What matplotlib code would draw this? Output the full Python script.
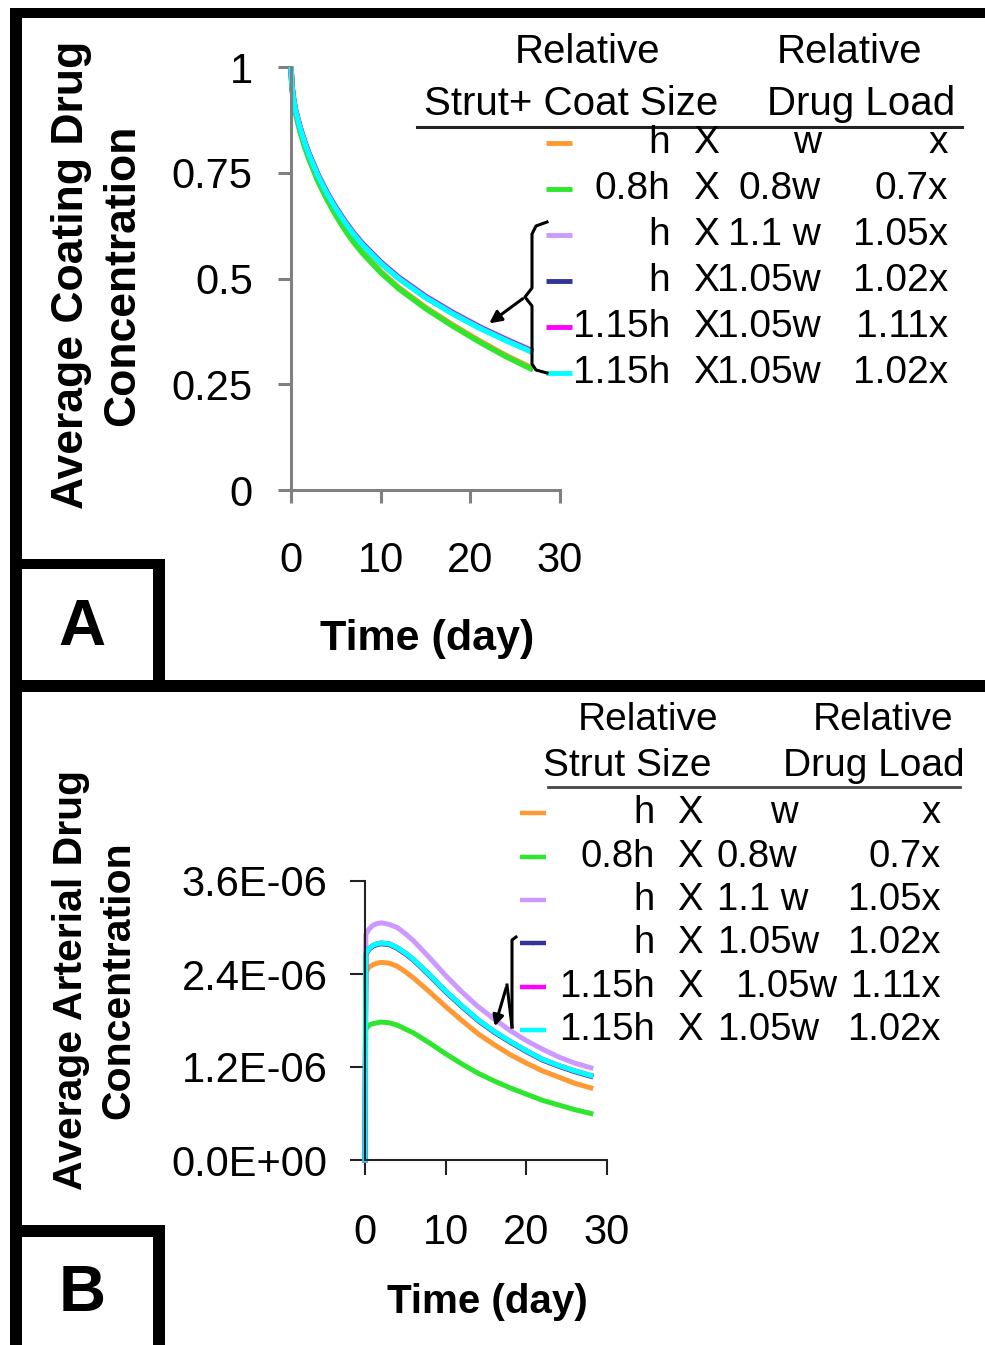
import matplotlib
matplotlib.use("Agg")
import matplotlib.pyplot as plt
from matplotlib.patches import Rectangle
from matplotlib.ticker import FuncFormatter

plt.rcParams['font.family'] = ['Liberation Sans', 'DejaVu Sans']

# series styling / legend rows (shared by both panels)
colors = ['#FF9933', '#2EE62E', '#CC99FF', '#333399', '#FF00FF', '#00FFFF']
h_col = ['h', '0.8h', 'h', 'h', '1.15h', '1.15h']
w_col = ['w', '0.8w', '1.1 w', '1.05w', '1.05w', '1.05w']
load_col = ['x', '0.7x', '1.05x', '1.02x', '1.11x', '1.02x']

# Panel A: average coating drug concentration (normalised)
t_coat = [0, 0.1, 0.25, 0.5, 1, 1.5, 2, 3, 4, 5, 6, 7, 8, 10, 12, 15, 18, 21, 24, 27]
coat_h_w = [1, 0.955, 0.925, 0.893, 0.85, 0.815, 0.785, 0.733, 0.69, 0.652, 0.618, 0.588,
            0.562, 0.517, 0.479, 0.432, 0.391, 0.353, 0.318, 0.287]
coat_08h = [1, 0.954, 0.923, 0.891, 0.847, 0.812, 0.782, 0.73, 0.687, 0.649, 0.615, 0.585,
            0.559, 0.514, 0.476, 0.429, 0.388, 0.35, 0.315, 0.284]
coat_11w = [1, 0.958, 0.93, 0.9, 0.86, 0.826, 0.797, 0.747, 0.705, 0.669, 0.637, 0.608,
            0.583, 0.54, 0.504, 0.459, 0.421, 0.387, 0.357, 0.329]
coat_105w = [1, 0.957, 0.929, 0.898, 0.858, 0.824, 0.795, 0.745, 0.703, 0.667, 0.635, 0.606,
             0.581, 0.538, 0.502, 0.457, 0.419, 0.385, 0.355, 0.327]
coat_115h_111x = [1, 0.957, 0.928, 0.897, 0.857, 0.823, 0.794, 0.744, 0.702, 0.666, 0.634, 0.605,
                  0.58, 0.537, 0.501, 0.456, 0.418, 0.384, 0.354, 0.326]
coat_115h_102x = [1, 0.957, 0.928, 0.897, 0.856, 0.822, 0.793, 0.743, 0.701, 0.665, 0.633, 0.604,
                  0.579, 0.536, 0.5, 0.455, 0.417, 0.383, 0.353, 0.325]
coat_series = [coat_h_w, coat_08h, coat_11w, coat_105w, coat_115h_111x, coat_115h_102x]

# Panel B: average arterial drug concentration (x 1e-6)
t_art = [0, 0.1, 0.5, 1, 1.5, 2, 3, 4, 5, 6, 8, 10, 12, 14, 16, 18, 20, 22, 24, 26, 28]
art_h_w = [0, 2.42, 2.49, 2.52, 2.54, 2.55, 2.54, 2.50, 2.43, 2.35, 2.17, 1.98, 1.80, 1.63,
           1.49, 1.36, 1.25, 1.15, 1.07, 0.99, 0.93]
art_08h = [0, 1.69, 1.74, 1.76, 1.77, 1.78, 1.77, 1.74, 1.69, 1.64, 1.51, 1.37, 1.24, 1.12,
           1.02, 0.93, 0.85, 0.77, 0.71, 0.65, 0.60]
art_11w = [0, 2.91, 2.98, 3.03, 3.05, 3.06, 3.04, 3.00, 2.92, 2.83, 2.61, 2.38, 2.17, 1.98,
           1.82, 1.67, 1.54, 1.43, 1.33, 1.25, 1.19]
art_105w = [0, 2.65, 2.72, 2.76, 2.78, 2.79, 2.78, 2.73, 2.66, 2.58, 2.38, 2.17, 1.98, 1.80,
            1.65, 1.52, 1.40, 1.29, 1.21, 1.14, 1.08]
art_115h_111x = [0, 2.66, 2.73, 2.77, 2.79, 2.80, 2.79, 2.74, 2.67, 2.59, 2.39, 2.18, 1.99, 1.81,
                 1.66, 1.53, 1.41, 1.30, 1.22, 1.15, 1.09]
art_115h_102x = [0, 2.66, 2.73, 2.77, 2.79, 2.80, 2.79, 2.74, 2.67, 2.59, 2.39, 2.18, 1.99, 1.81,
                 1.66, 1.53, 1.41, 1.30, 1.22, 1.15, 1.09]
art_series = [art_h_w, art_08h, art_11w, art_105w, art_115h_111x, art_115h_102x]

W, H = 985, 1345
fig = plt.figure(figsize=(W / 100, H / 100), dpi=100)


def px_box(left, top, right, bottom):
    return [left / W, 1 - bottom / H, (right - left) / W, (bottom - top) / H]


# ---- panel A axes ----
axA = fig.add_axes(px_box(291, 67, 560, 490))
for vals, c in zip(coat_series, colors):
    axA.plot(t_coat, vals, color=c, lw=3.9, solid_capstyle='butt', clip_on=False)
axA.set_xlim(0, 30)
axA.set_ylim(0, 1)
axA.set_xticks([0, 10, 20, 30])
axA.set_yticks([0, 0.25, 0.5, 0.75, 1])
axA.yaxis.set_major_formatter(FuncFormatter(lambda v, p: f'{v:g}'))
for s in ['top', 'right']:
    axA.spines[s].set_visible(False)
for s in ['left', 'bottom']:
    axA.spines[s].set_color('#808080')
    axA.spines[s].set_linewidth(2.2)
axA.tick_params(axis='both', direction='out', length=9.5, width=2.2, color='#808080', labelsize=30)
axA.tick_params(axis='y', pad=18)
axA.tick_params(axis='x', pad=27)
axA.set_xlabel('Time (day)', fontsize=31, fontweight='bold', va='center')
axA.xaxis.set_label_coords(0.506, -0.352)
axA.set_ylabel('Average Coating Drug\nConcentration', fontsize=32, fontweight='bold',
               va='center', ha='center', multialignment='center', linespacing=1.3)
axA.yaxis.set_label_coords(-0.721, 0.508)

# ---- panel B axes ----
axB = fig.add_axes(px_box(365, 881, 607, 1160))
for vals, c in zip(art_series, colors):
    axB.plot(t_art, [v * 1e-6 for v in vals], color=c, lw=3.6, clip_on=False)
axB.set_xlim(0, 30)
axB.set_ylim(0, 3.6e-6)
axB.set_xticks([0, 10, 20, 30])
axB.set_yticks([0, 1.2e-6, 2.4e-6, 3.6e-6])
axB.yaxis.set_major_formatter(FuncFormatter(lambda v, p: f'{v:.1E}'))
for s in ['top', 'right']:
    axB.spines[s].set_visible(False)
for s in ['left', 'bottom']:
    axB.spines[s].set_color('#222222')
    axB.spines[s].set_linewidth(1.5)
axB.tick_params(axis='both', direction='out', length=11, width=1.5, color='#222222', labelsize=30)
axB.tick_params(axis='y', pad=16)
axB.tick_params(axis='x', pad=27)
axB.set_xlabel('Time (day)', fontsize=29, fontweight='bold', va='center')
axB.xaxis.set_label_coords(0.504, -0.51)
axB.set_ylabel('Average Arterial Drug\nConcentration', fontsize=29.5, fontweight='bold',
               va='center', ha='center', multialignment='center', linespacing=1.3)
axB.yaxis.set_label_coords(-1.116, 0.645)

# ---- overlay in pixel coordinates: frame, panel tags, legends, brackets ----
ov = fig.add_axes([0, 0, 1, 1])
ov.set_xlim(0, W)
ov.set_ylim(H, 0)
ov.axis('off')
ov.set_zorder(5)

for x, y, w, h in [(10, 8, 975, 10), (10, 8, 12, 1337), (10, 680, 975, 12),
                   (22, 559, 143, 10), (153, 559, 12, 133),
                   (22, 1225, 143, 12), (153, 1225, 12, 120)]:
    ov.add_patch(Rectangle((x, y), w, h, facecolor='black', edgecolor='none'))

ov.text(82, 628, 'A', fontsize=47, fontweight='bold', ha='center', va='center')
ov.text(82, 1294, 'B', fontsize=47, fontweight='bold', ha='center', va='center')

# legend A
fsA = 29
fsA_rows = 28
ov.text(588, 52, 'Relative', fontsize=fsA, ha='center', va='center')
ov.text(850, 52, 'Relative', fontsize=fsA, ha='center', va='center')
ov.text(571, 104, 'Strut+ Coat Size', fontsize=fsA, ha='center', va='center')
ov.text(861, 104, 'Drug Load', fontsize=fsA, ha='center', va='center')
ov.plot([417, 962], [127, 127], color='#222222', lw=2.2)
rowsA = [143, 189, 235, 281, 327, 373]
for i, y in enumerate(rowsA):
    ov.plot([546, 572], [y, y], color=colors[i], lw=3.5, solid_capstyle='butt')
    ov.plot([559], [y], marker='o', ms=2.5, color=colors[i], mec='none')
    ov.text(670, y, h_col[i], fontsize=fsA_rows, ha='right', va='center')
    ov.text(706, y, 'X', fontsize=fsA_rows, ha='center', va='center')
    ov.text(821, y, w_col[i], fontsize=fsA_rows, ha='right', va='center')
    ov.text(948, y, load_col[i], fontsize=fsA_rows, ha='right', va='center')

# brace pointing at the upper curve group in A
ov.plot([547, 536, 532, 532, 525, 532, 532, 536, 547],
        [222, 226, 234, 288, 297, 306, 364, 370, 373], color='black', lw=2.2)
ov.annotate('', xy=(487, 325), xytext=(525, 297),
            arrowprops=dict(arrowstyle='-|>', color='black', lw=2.2, mutation_scale=18))

# legend B
fsB = 28
fsB_rows = 27.5
ov.text(648, 720, 'Relative', fontsize=fsB, ha='center', va='center')
ov.text(883, 720, 'Relative', fontsize=fsB, ha='center', va='center')
ov.text(627, 766, 'Strut Size', fontsize=fsB, ha='center', va='center')
ov.text(874, 766, 'Drug Load', fontsize=fsB, ha='center', va='center')
ov.plot([548, 960], [787, 787], color='#444444', lw=2)
rowsB = [813, 857, 900, 943, 987, 1030]
w_left_b = [770, 717, 717, 717, 735, 717]
for i, y in enumerate(rowsB):
    ov.plot([520, 546], [y, y], color=colors[i], lw=3.2, solid_capstyle='butt')
    ov.plot([533], [y], marker='o', ms=2.5, color=colors[i], mec='none')
    ov.text(655, y, h_col[i], fontsize=fsB_rows, ha='right', va='center')
    ov.text(690, y, 'X', fontsize=fsB_rows, ha='center', va='center')
    ov.text(w_left_b[i], y, w_col[i], fontsize=fsB_rows, ha='left', va='center')
    ov.text(941, y, load_col[i], fontsize=fsB_rows, ha='right', va='center')

# bracket and pointer in B
ov.plot([516, 512, 512], [937, 940, 1027], color='black', lw=2.2)
ov.plot([512, 507], [1027, 985], color='black', lw=2.2)
ov.annotate('', xy=(494, 1029), xytext=(507, 985),
            arrowprops=dict(arrowstyle='-|>', color='black', lw=2.2, mutation_scale=16))

fig.savefig('out.png', dpi=100)
